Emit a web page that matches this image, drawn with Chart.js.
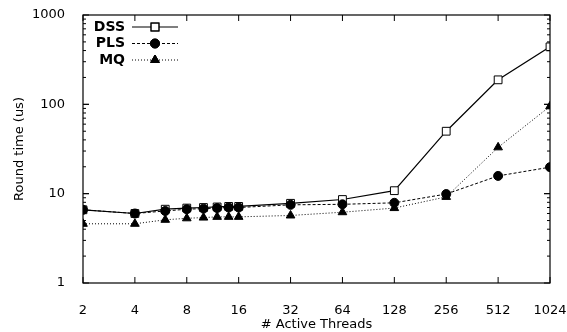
<!DOCTYPE html>
<html>
<head>
<meta charset="utf-8">
<script src="https://cdn.jsdelivr.net/npm/chart.js@4/dist/chart.umd.min.js"></script>
<style>
  html, body { margin: 0; padding: 0; background: #fff; }
  #wrap { width: 567px; height: 332px; }
</style>
</head>
<body>
<div id="wrap"><canvas id="myChart" width="567" height="332"></canvas></div>
<script>
// thread counts on the x axis
const threads = [2, 4, 6, 8, 10, 12, 14, 16, 32, 64, 128, 256, 512, 1024];
const xTicks = [2, 4, 8, 16, 32, 64, 128, 256, 512, 1024];
const yTicks = [1, 10, 100, 1000];

// round time (us)
const dss = [6.6, 6.0, 6.7, 6.9, 7.0, 7.1, 7.2, 7.2, 7.8, 8.6, 10.8, 50, 188, 440];
const pls = [6.6, 6.0, 6.4, 6.7, 6.8, 6.9, 7.0, 7.0, 7.5, 7.6, 7.9, 9.9, 15.8, 19.8];
const mq = [4.6, 4.6, 5.1, 5.3, 5.4, 5.5, 5.5, 5.5, 5.7, 6.2, 6.9, 9.2, 33, 95];

const FONT = 'DejaVu Sans';

function toPoints(values) {
    return threads.map((t, i) => ({x: t, y: values[i]}));
}

// gnuplot style frame with inward ticks on all four sides
const framePlugin = {
    id: 'frame',
    afterDatasetsDraw(chart) {
        const ctx = chart.ctx;
        const a = chart.chartArea;
        const xs = chart.scales.x, ys = chart.scales.y;
        ctx.save();
        ctx.strokeStyle = '#000';
        ctx.lineWidth = 1.2;
        ctx.strokeRect(a.left, a.top, a.right - a.left, a.bottom - a.top);
        ctx.lineWidth = 1;
        ctx.beginPath();
        xTicks.forEach(v => {
            let px = xs.getPixelForValue(v);
            ctx.moveTo(px, a.bottom); ctx.lineTo(px, a.bottom - 6);
            ctx.moveTo(px, a.top); ctx.lineTo(px, a.top + 6);
        });
        for (let d = 1; d < 1000; d *= 10) {
            for (let m = 1; m <= 10; m++) {
                let py = ys.getPixelForValue(d * m);
                let len = (m === 1 || m === 10) ? 6 : 3;
                ctx.moveTo(a.left, py); ctx.lineTo(a.left + len, py);
                ctx.moveTo(a.right, py); ctx.lineTo(a.right - len, py);
            }
        }
        ctx.stroke();
        ctx.restore();
    },
    afterDraw(chart) {
        // key in the top left corner
        const ctx = chart.ctx;
        const a = chart.chartArea;
        ctx.save();
        ctx.font = 'bold 14px ' + FONT;
        ctx.textAlign = 'right';
        ctx.textBaseline = 'middle';
        ctx.fillStyle = '#000';
        chart.data.datasets.forEach((ds, i) => {
            let y = a.top + 12 + i * 16.5;
            let x0 = a.left + 49, x1 = a.left + 95;
            ctx.fillText(ds.label, a.left + 42, y);
            ctx.strokeStyle = '#000';
            ctx.lineWidth = ds.borderWidth;
            ctx.setLineDash(ds.borderDash || []);
            ctx.beginPath();
            ctx.moveTo(x0, y); ctx.lineTo(x1, y);
            ctx.stroke();
            ctx.setLineDash([]);
            Chart.helpers.drawPoint(ctx, {
                pointStyle: ds.pointStyle,
                radius: ds.pointRadius,
                borderWidth: 1
            }, (x0 + x1) / 2, y);
            ctx.fillStyle = ds.pointBackgroundColor;
            ctx.fill();
            ctx.stroke();
            ctx.fillStyle = '#000';
        });
        ctx.restore();
    }
};

let chart = new Chart(document.getElementById('myChart').getContext('2d'), {
    type: 'line',
    data: {
        datasets: [{
            label: 'DSS',
            data: toPoints(dss),
            borderColor: '#000',
            borderWidth: 1.2,
            pointStyle: 'rect',
            pointRadius: 5.5,
            pointBackgroundColor: '#fff',
            pointBorderColor: '#000',
            pointBorderWidth: 1,
            order: 3
        }, {
            label: 'PLS',
            data: toPoints(pls),
            borderColor: '#000',
            borderWidth: 1,
            borderDash: [3, 2],
            pointStyle: 'circle',
            pointRadius: 4.5,
            pointBackgroundColor: '#000',
            pointBorderColor: '#000',
            order: 2
        }, {
            label: 'MQ',
            data: toPoints(mq),
            borderColor: '#000',
            borderWidth: 1,
            borderDash: [1, 2],
            pointStyle: 'triangle',
            pointRadius: 5,
            pointBackgroundColor: '#000',
            pointBorderColor: '#000',
            order: 1
        }]
    },
    options: {
        responsive: false,
        animation: false,
        layout: {padding: {top: 15, right: 17, left: 8, bottom: 0}},
        plugins: {legend: {display: false}, tooltip: {enabled: false}},
        scales: {
            x: {
                type: 'logarithmic',
                min: 2,
                max: 1024,
                afterBuildTicks: s => { s.ticks = xTicks.map(v => ({value: v})); },
                afterFit: s => { s.height = 49; s.paddingLeft = 0; s.paddingRight = 0; },
                grid: {display: false},
                border: {display: false},
                ticks: {
                    color: '#000',
                    padding: 12,
                    maxRotation: 0,
                    autoSkip: false,
                    font: {family: FONT, size: 13},
                    callback: v => String(v)
                },
                title: {
                    display: true,
                    text: '# Active Threads',
                    color: '#000',
                    padding: {top: 2, bottom: 0},
                    font: {family: FONT, size: 13}
                }
            },
            y: {
                type: 'logarithmic',
                min: 1,
                max: 1000,
                afterBuildTicks: s => { s.ticks = yTicks.map(v => ({value: v})); },
                afterFit: s => { s.width = 75; s.paddingTop = 0; s.paddingBottom = 0; },
                grid: {display: false},
                border: {display: false},
                ticks: {
                    color: '#000',
                    padding: 10,
                    font: {family: FONT, size: 13},
                    callback: v => String(v)
                },
                title: {
                    display: true,
                    text: 'Round time (us)',
                    color: '#000',
                    padding: {top: 4, bottom: 4},
                    font: {family: FONT, size: 13}
                }
            }
        }
    },
    plugins: [framePlugin]
});
</script>
</body>
</html>
